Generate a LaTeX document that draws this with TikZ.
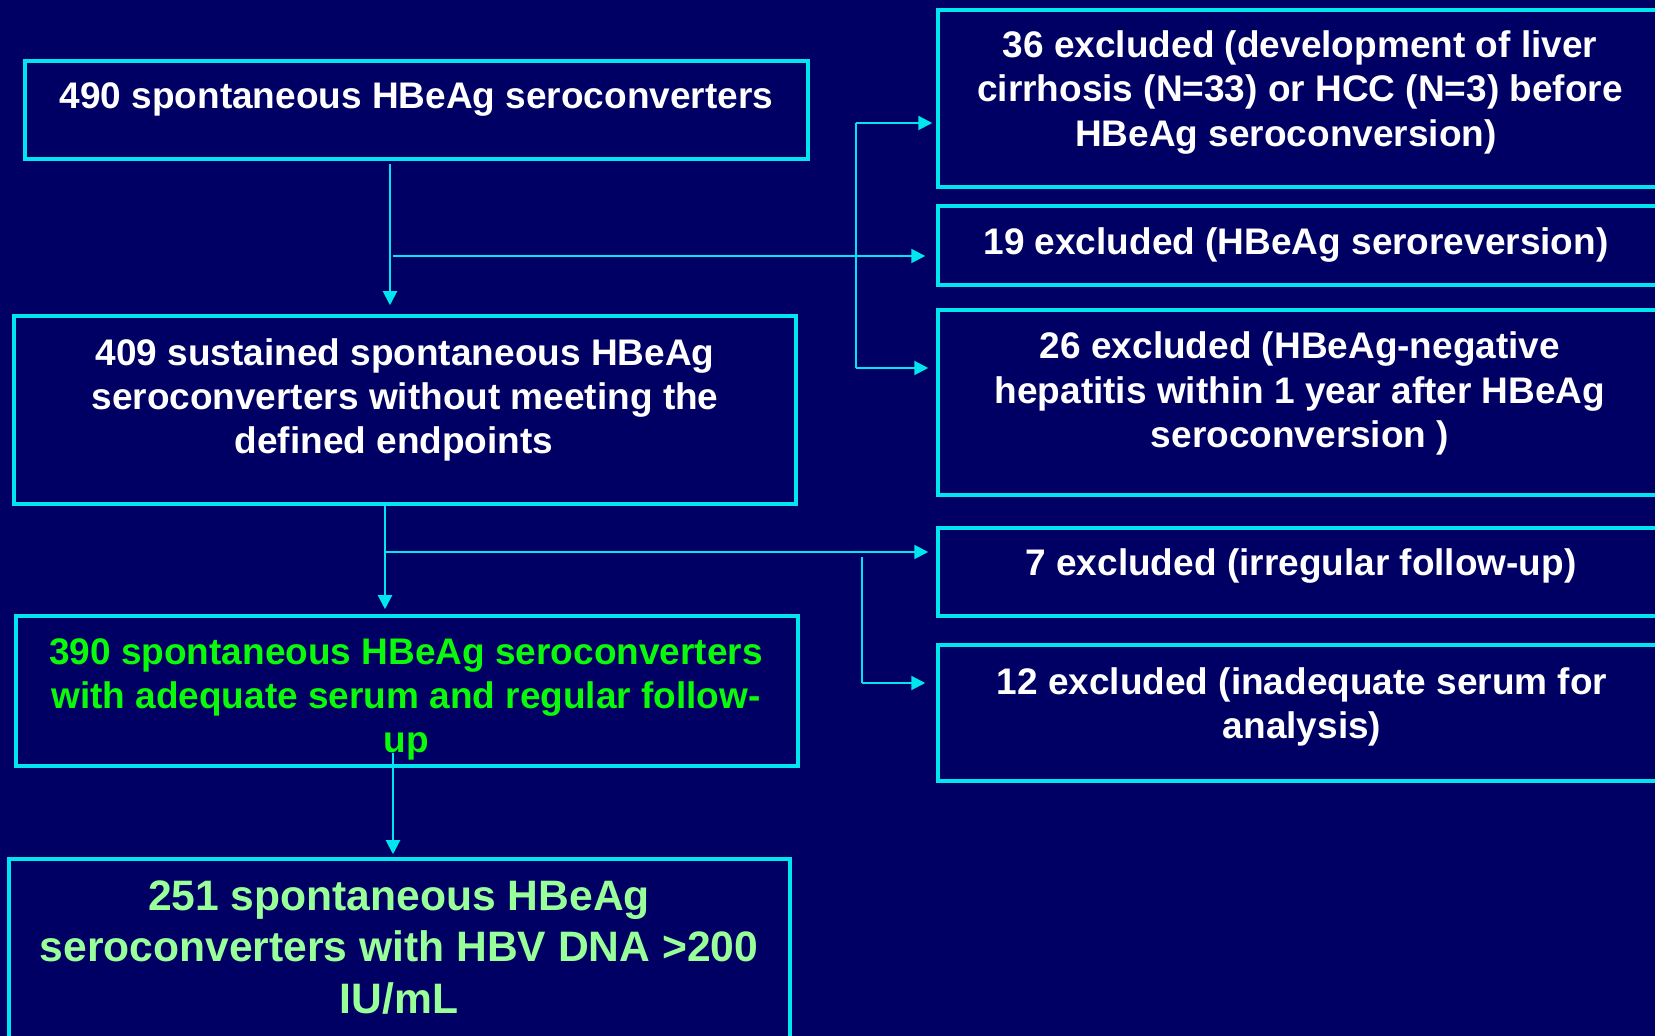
\documentclass[tikz,border=0pt]{standalone}
\usepackage{fontspec}
\setmainfont{Liberation Sans}
\usetikzlibrary{arrows.meta,fit}
\definecolor{bgnavy}{RGB}{0,0,100}
\definecolor{edgecyan}{RGB}{0,229,238}
\definecolor{brightgreen}{RGB}{10,250,10}
\definecolor{palegreen}{RGB}{153,255,153}
\begin{document}
\begin{tikzpicture}[x=0.5pt,y=-0.5pt,
  box/.style={draw=edgecyan,line width=1.75pt,inner sep=0pt},
  txt/.style={inner sep=0pt,align=center,text=white,font=\fontsize{18.5}{22.2}\selectfont\bfseries},
  bigtxt/.style={inner sep=0pt,align=center,text=palegreen,font=\fontsize{21.3}{25.6}\selectfont\bfseries},
  conn/.style={draw=edgecyan,line width=1pt},
  arr/.style={conn,-{Triangle[length=7pt,width=7pt]}}]
\clip (0,0) rectangle (1655,1036);
\fill[bgnavy] (0,0) rectangle (1655,1036);
% left boxes
\node[box,fit={(25,61) (808,159)}] (b1) {};
\node[box,fit={(14,316) (796,504)}] (b2) {};
\node[box,fit={(16,616) (798,766)}] (b3) {};
\node[box,fit={(9,859) (790,1050)}] (b4) {};
% right boxes
\node[box,fit={(938,10) (1662,187)}] (r1) {};
\node[box,fit={(938,206) (1662,285)}] (r2) {};
\node[box,fit={(938,310) (1662,495)}] (r3) {};
\node[box,fit={(938,528) (1662,616)}] (r4) {};
\node[box,fit={(938,645) (1662,781)}] (r5) {};
% texts
\node[txt] (t1) at (416.5,99.5) {490 spontaneous HBeAg seroconverters};
\node[txt] (t2) at (405,400) {409 sustained spontaneous HBeAg\\seroconverters without meeting the\\defined endpoints\hspace*{11pt}};
\node[txt,text=brightgreen] (t3) at (406,699.5) {390 spontaneous HBeAg seroconverters\\with adequate serum and regular follow-\\up};
\node[bigtxt] (t4) at (399,947.5) {251 spontaneous HBeAg\\seroconverters with HBV DNA >200\\IU/mL};
\node[txt] (s1) at (1300,92.5) {36 excluded (development of liver\\cirrhosis (N=33) or HCC (N=3) before\\HBeAg seroconversion)\hspace*{14pt}};
\node[txt] (s2) at (1296,245.5) {19 excluded (HBeAg seroreversion)};
\node[txt] (s3) at (1300,393.5) {26 excluded (HBeAg-negative\\hepatitis within 1 year after HBeAg\\seroconversion )};
\node[txt] (s4) at (1301,566) {7 excluded (irregular follow-up)};
\node[txt] (s5) at (1302,707) {12 excluded (inadequate serum for\\analysis)};
% connectors
\coordinate (p1) at (390,164);
\draw[arr] (p1) -- ([yshift=4.5pt]p1 |- b2.north);
\coordinate (j1) at (393,256);
\draw[arr] (j1) -- ([xshift=-5.5pt]j1 -| r2.west);
\coordinate (k1) at (856,123);
\coordinate (k2) at (856,368);
\draw[conn] (k1) -- (k2);
\draw[arr] (k1) -- ([xshift=-2pt]k1 -| r1.west);
\draw[arr] (k2) -- ([xshift=-4pt]k2 -| r3.west);
\coordinate (x2) at (385,0);
\draw[arr] (b2.south -| x2) -- ([yshift=2.5pt]b3.north -| x2);
\coordinate (j2) at (385,552);
\draw[arr] (j2) -- ([xshift=-4pt]j2 -| r4.west);
\coordinate (k3) at (862,557);
\coordinate (k4) at (862,683);
\draw[conn] (k3) -- (k4);
\draw[arr] (k4) -- ([xshift=-5.5pt]k4 -| r5.west);
\coordinate (p3) at (393,753);
\draw[arr] (p3) -- ([yshift=1.5pt]p3 |- b4.north);
\end{tikzpicture}
\end{document}
